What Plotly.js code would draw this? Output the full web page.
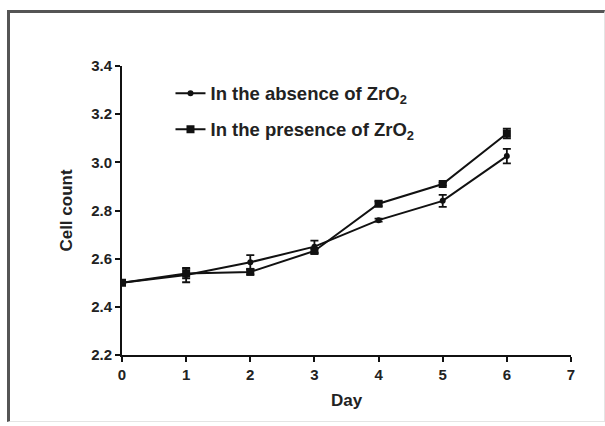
<!DOCTYPE html>
<html>
<head>
<meta charset="utf-8">
<script src="https://cdn.plot.ly/plotly-3.0.1.min.js"></script>
<style>
  html, body { margin: 0; padding: 0; background: #fff; }
  #frame { position: absolute; left: 7px; top: 10px; width: 594px; height: 408px;
           border-top: 3px solid #555; border-left: 3px solid #555;
           border-right: 1px solid #e4e4e4; border-bottom: 1px solid #e4e4e4; }
  #chart { position: absolute; left: 0; top: 0; width: 605px; height: 426px; }
</style>
</head>
<body>
<div id="frame"></div>
<div id="chart"></div>
<script>
const days = [0, 1, 2, 3, 4, 5, 6];
const absenceName = "In the absence of ZrO<sub>2</sub>";
const presenceName = "In the presence of ZrO<sub>2</sub>";
const absenceValues = [2.50, 2.532, 2.585, 2.65, 2.76, 2.84, 3.026];
const absenceErrors = [0.0, 0.03, 0.03, 0.025, 0.006, 0.025, 0.03];
const presenceValues = [2.50, 2.538, 2.545, 2.632, 2.828, 2.91, 3.12];
const presenceErrors = [0.0, 0.02, 0.01, 0.01, 0.01, 0.006, 0.02];
const yTicks = [2.2, 2.4, 2.6, 2.8, 3.0, 3.2, 3.4];
const xTicks = [0, 1, 2, 3, 4, 5, 6, 7];

const font = "Liberation Sans, Arial, sans-serif";

const traces = [
  {
    x: days, y: absenceValues, name: absenceName, type: "scatter", mode: "lines+markers",
    legendgroup: "a",
    line: { color: "#111", width: 2 },
    marker: { symbol: "circle", size: 6, color: "#111" },
    error_y: { type: "data", array: absenceErrors, visible: true, color: "#111", thickness: 1.8, width: 4 }
  },
  {
    x: days, y: presenceValues, name: presenceName, type: "scatter", mode: "lines+markers",
    legendgroup: "b",
    line: { color: "#111", width: 2 },
    marker: { symbol: "square", size: 8, color: "#111" },
    error_y: { type: "data", array: presenceErrors, visible: true, color: "#111", thickness: 1.8, width: 4 }
  }
];

const layout = {
  width: 605, height: 426,
  margin: { l: 122, r: 34, t: 66, b: 71 },
  paper_bgcolor: "rgba(0,0,0,0)",
  plot_bgcolor: "rgba(0,0,0,0)",
  showlegend: true,
  legend: {
    x: 0.108, y: 0.97, xanchor: "left", yanchor: "top",
    bgcolor: "rgba(0,0,0,0)",
    font: { family: font, size: 18.5, color: "#222", weight: "bold" },
    itemwidth: 30, traceorder: "grouped", tracegroupgap: 9
  },
  xaxis: {
    range: [0, 7], tickvals: xTicks, ticktext: xTicks.map(String),
    showgrid: false, zeroline: false, showline: true, linecolor: "#111", linewidth: 2,
    ticks: "outside", ticklen: 5, tickwidth: 2, tickcolor: "#111",
    tickfont: { family: font, size: 15, color: "#222", weight: "bold" },
    title: { text: "Day", font: { family: font, size: 17, color: "#222", weight: "bold" }, standoff: 12 }
  },
  yaxis: {
    range: [2.2, 3.4], tickvals: yTicks, ticktext: yTicks.map(v => v.toFixed(1)),
    showgrid: false, zeroline: false, showline: true, linecolor: "#111", linewidth: 2,
    ticks: "outside", ticklen: 5, tickwidth: 2, tickcolor: "#111",
    tickfont: { family: font, size: 15, color: "#222", weight: "bold" },
    title: { text: "Cell count", font: { family: font, size: 17, color: "#222", weight: "bold" }, standoff: 14 }
  }
};

Plotly.newPlot("chart", traces, layout, { displayModeBar: false, staticPlot: true });
</script>
</body>
</html>
